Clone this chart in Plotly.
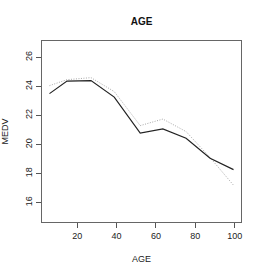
import plotly.graph_objects as go

age = [5.9, 14.8, 27.0, 38.8, 52.0, 63.5, 75.3, 87.5, 99.4]
medv_solid = [23.5, 24.36, 24.4, 23.26, 20.79, 21.07, 20.43, 19.05, 18.27]
medv_dotted = [24.05, 24.46, 24.6, 23.64, 21.3, 21.75, 20.89, 19.1, 17.2]
x_ticks = [20, 40, 60, 80, 100]
y_ticks = [16, 18, 20, 22, 24, 26]

font = "Liberation Sans, Arial, sans-serif"

fig = go.Figure()
fig.add_trace(go.Scatter(x=age, y=medv_dotted, mode="lines",
                         line=dict(color="#a8a8a8", width=1, dash="1px,1.5px")))
fig.add_trace(go.Scatter(x=age, y=medv_solid, mode="lines",
                         line=dict(color="#222222", width=1.2)))

fig.update_layout(
    width=262, height=275,
    margin=dict(l=42, r=21, t=41, b=53),
    paper_bgcolor="white", plot_bgcolor="white",
    showlegend=False,
    font=dict(family=font, size=9, color="#222"),
    title=dict(text="<b>AGE</b>", x=(42 + 241) / 2 / 262, xanchor="center",
               y=1 - 21 / 275, yanchor="middle",
               font=dict(family=font, size=10, color="#111")),
)
fig.update_xaxes(range=[2.1, 103.2], tickvals=x_ticks, ticks="outside", ticklen=5,
                 tickcolor="#555", showgrid=False, zeroline=False, automargin=False,
                 showline=True, linecolor="#666", linewidth=1, mirror=True,
                 title=dict(text="AGE", font=dict(family=font, size=9)),
                 tickfont=dict(family=font, size=9, color="#222"))
fig.update_yaxes(range=[14.67, 27.12], tickvals=y_ticks, ticks="outside", ticklen=5,
                 tickcolor="#555", showgrid=False, zeroline=False, automargin=False,
                 showline=True, linecolor="#666", linewidth=1, mirror=True,
                 tickangle=-90,
                 title=dict(text="MEDV", font=dict(family=font, size=9)),
                 tickfont=dict(family=font, size=9, color="#222"))

fig.write_html("out.html", config={"displayModeBar": False},
               post_script="document.body.style.margin='0';document.body.style.padding='0';")
